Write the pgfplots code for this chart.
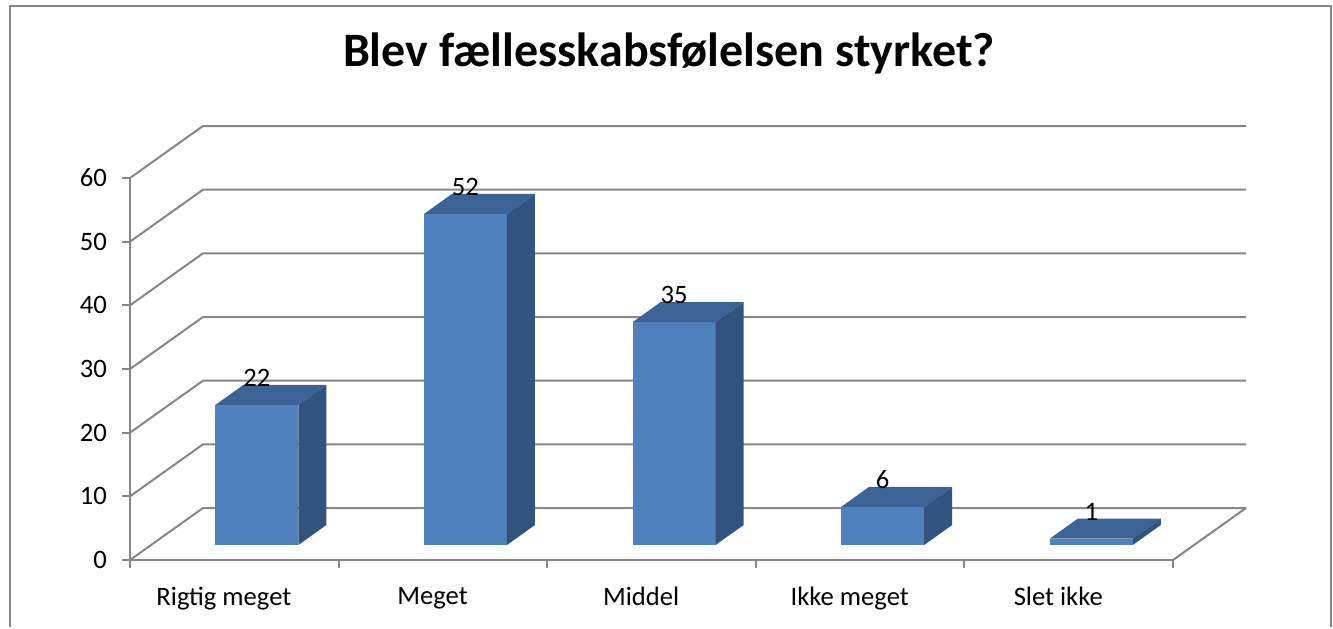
\documentclass[border=0pt]{standalone}
\usepackage{fontspec}
\setmainfont{Carlito}
\usepackage{pgfplots}
\usepackage{pgfplotstable}
\pgfplotsset{compat=1.18}

\definecolor{gridgray}{RGB}{134,134,134}
\definecolor{barfront}{RGB}{79,129,189}
\definecolor{bartop}{RGB}{60,99,150}
\definecolor{barside}{RGB}{49,83,127}

\pgfplotstableread{
x y
0 22
1 52
2 35
3 6
4 1
}\svar

\newcommand\lblfont{\fontsize{13.3}{16}\selectfont}
\newcommand\yunit{3.1833}% pt per unit on y

% 3D bar drawn at the data point (front plane), value in \barval
\pgfdeclareplotmark{bar3d}{%
  \pgfmathsetmacro\barh{\barval*\yunit}%
  \pgfmathsetmacro\barlo{7.5-\barh}%
  \pgfmathsetmacro\barlob{17.5-\barh}%
  \pgfpathrectangle{\pgfpoint{-4.25pt}{\barlo pt}}{\pgfpoint{41.5pt}{\barh pt}}%
  \pgfsetfillcolor{barfront}\pgfusepath{fill}%
  \pgfpathmoveto{\pgfpoint{-4.25pt}{7.5pt}}%
  \pgfpathlineto{\pgfpoint{37.25pt}{7.5pt}}%
  \pgfpathlineto{\pgfpoint{51.25pt}{17.5pt}}%
  \pgfpathlineto{\pgfpoint{9.75pt}{17.5pt}}%
  \pgfpathclose
  \pgfsetfillcolor{bartop}\pgfusepath{fill}%
  \pgfpathmoveto{\pgfpoint{37.25pt}{\barlo pt}}%
  \pgfpathlineto{\pgfpoint{37.25pt}{7.5pt}}%
  \pgfpathlineto{\pgfpoint{51.25pt}{17.5pt}}%
  \pgfpathlineto{\pgfpoint{51.25pt}{\barlob pt}}%
  \pgfpathclose
  \pgfsetfillcolor{barside}\pgfusepath{fill}%
}

\begin{document}
\begin{tikzpicture}
\path (0,0) rectangle (666.5pt,313.5pt);
\draw[gridgray, line width=1pt] (5pt,0pt) -- (5pt,310.5pt) -- (665.5pt,310.5pt) -- (665.5pt,0pt);
\node[font=\fontsize{24}{29}\selectfont\bfseries, anchor=base]
  at (334.5pt,280pt) {Blev fællesskabsfølelsen styrket?};

\begin{axis}[
  at={(65pt,33.5pt)}, anchor=south west,
  x=104.3pt, y=3.1833pt,
  xmin=-0.45, xmax=4.55, ymin=0, ymax=60,
  axis lines=left,
  axis line style={gridgray, line width=1pt, -},
  clip=false, set layers,
  font=\lblfont,
  /pgf/number format/assume math mode=true,
  tick align=outside,
  major tick length=4pt,
  tick style={gridgray, line width=1pt},
  xtick={-0.45,0.55,1.55,2.55,3.55,4.55},
  xticklabels={},
  extra x ticks={0,1,2,3,4},
  extra x tick labels={Rigtig meget,Meget,Middel,Ikke meget,Slet ikke},
  extra x tick style={major tick length=0pt,
    xticklabel style={yshift=-10pt}},
  ytick={0,10,...,60},
  yticklabel style={xshift=-4pt},
  nodes near coords,
  every node near coord/.append style={anchor=center, text=black,
    xshift=16.5pt, yshift=21pt, font=\lblfont},
]
\begin{pgfonlayer}{axis background}
\pgfplotsinvokeforeach{0,10,20,30,40,50,60}{
  \draw[gridgray, line width=1pt] (axis cs:-0.45,#1) -- ++(36.5pt,26pt)
    -- ([shift={(36.5pt,26pt)}]axis cs:4.55,#1);
}
\draw[gridgray, line width=1pt] (axis cs:4.55,0) -- ++(36.5pt,26pt);
\end{pgfonlayer}

\addplot[scatter, only marks, mark=bar3d,
  visualization depends on={y \as \barval}] table[x=x, y=y] {\svar};
\end{axis}
\end{tikzpicture}
\end{document}
